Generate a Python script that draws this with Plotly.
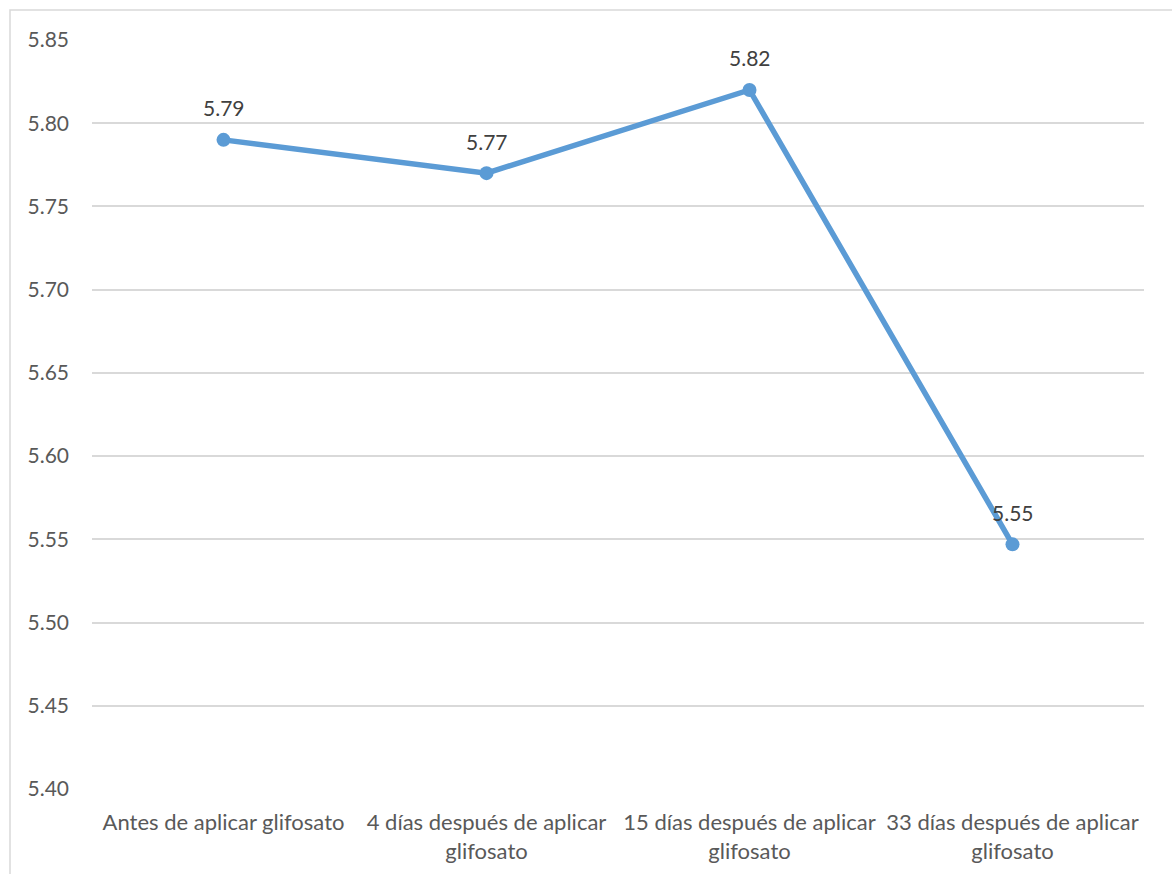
import plotly.graph_objects as go

categories = [
    "Antes de aplicar glifosato",
    "4 días después de aplicar<br>glifosato",
    "15 días después de aplicar<br>glifosato",
    "33 días después de aplicar<br>glifosato",
]
values = [5.79, 5.77, 5.82, 5.547]
tick_vals = [5.40, 5.45, 5.50, 5.55, 5.60, 5.65, 5.70, 5.75, 5.80, 5.85]

W, H = 1172, 874
ml, mr, mt, mb = 92, 28, 40, 85
pw, ph = W - ml - mr, H - mt - mb
FONT = "Lato, Open Sans, sans-serif"

fig = go.Figure()
fig.add_trace(go.Scatter(
    x=list(range(len(categories))), y=values, mode="lines+markers",
    line=dict(color="#5B9BD5", width=5.5),
    marker=dict(color="#5B9BD5", size=14),
    hoverinfo="skip", showlegend=False,
))

for i, v in enumerate(values):
    fig.add_annotation(x=i, y=v, text=f"{v:.2f}", showarrow=False,
                       yshift=32, font=dict(size=21, color="#404040", family=FONT))

# outer chart border
fig.add_shape(type="rect", xref="paper", yref="paper",
              x0=(10 - ml) / pw, x1=(W + 5 - ml) / pw,
              y0=-(H + 5 - mt - ph) / ph, y1=(ph + mt - 10) / ph,
              line=dict(color="#D9D9D9", width=1.5), fillcolor="rgba(0,0,0,0)", layer="below")

fig.update_layout(
    width=W, height=H,
    margin=dict(l=ml, r=mr, t=mt, b=mb, autoexpand=False),
    paper_bgcolor="white", plot_bgcolor="white",
    font=dict(family=FONT, size=21, color="#595959"),
    xaxis=dict(
        tickmode="array", tickvals=list(range(len(categories))), ticktext=categories,
        range=[-0.5, 3.5], showgrid=False, zeroline=False, showline=False,
        ticks="", tickangle=0, ticklabelstandoff=18, tickfont=dict(size=22),
        automargin=False,
    ),
    yaxis=dict(
        range=[5.40, 5.85], tickvals=tick_vals, tickformat=".2f",
        showgrid=True, gridcolor="#D9D9D9", gridwidth=1.5,
        zeroline=False, showline=False, ticks="", ticklabelstandoff=22,
        automargin=False,
    ),
)

fig.write_html("out.html")
